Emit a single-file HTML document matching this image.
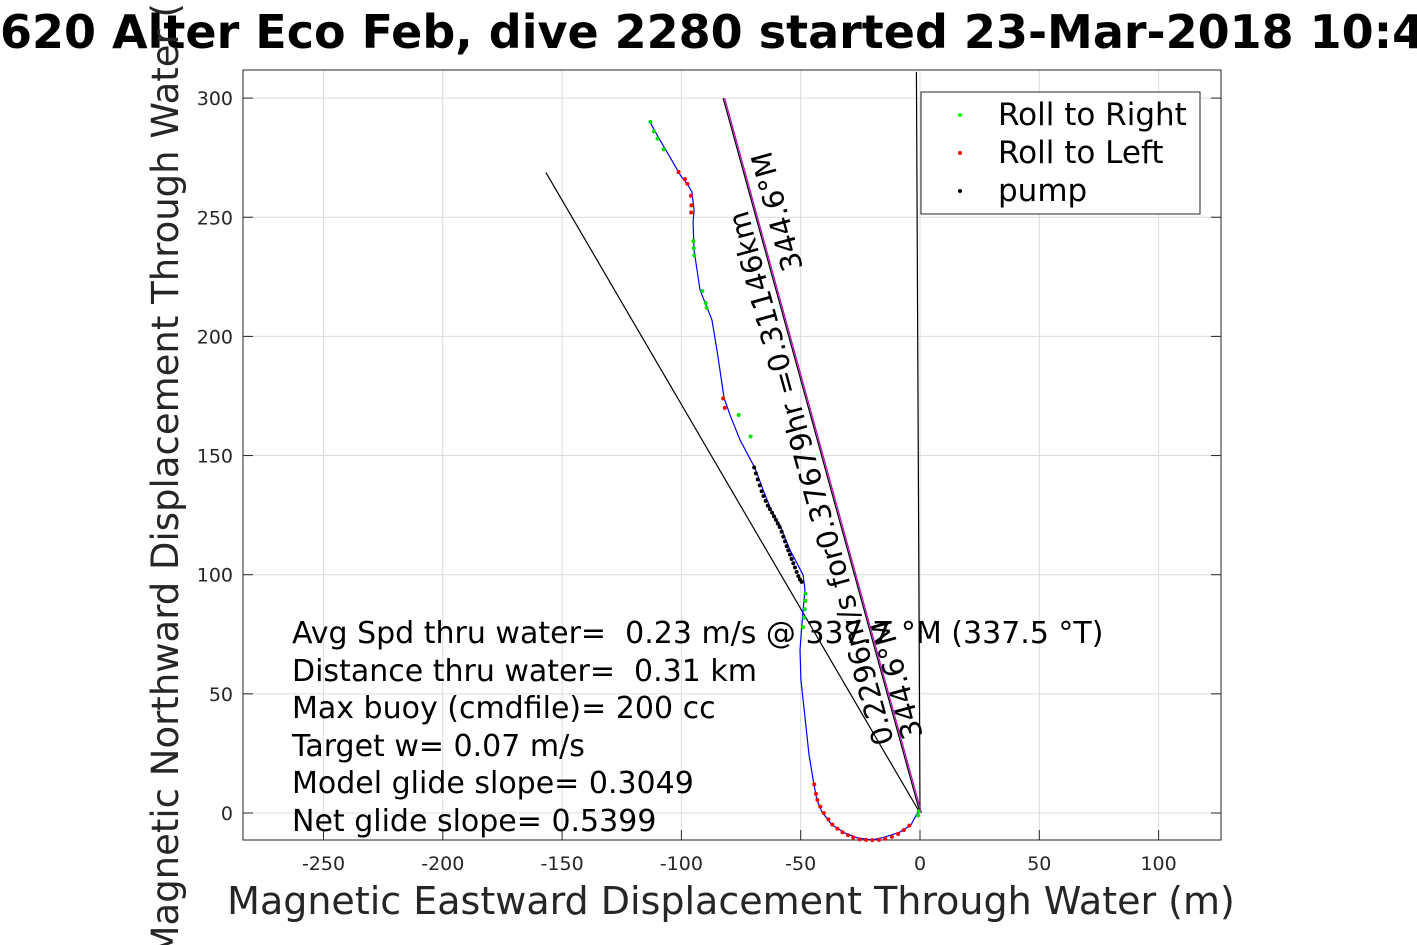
<!DOCTYPE html>
<html><head><meta charset="utf-8"><style>
html,body{margin:0;padding:0;background:#fff;width:1417px;height:945px;overflow:hidden}
svg{display:block;font-family:"DejaVu Sans","Liberation Sans",sans-serif}
.pre{white-space:pre}
</style></head><body>
<svg id="chart" width="1417" height="945">
<text x="0" y="48" font-size="46" font-weight="bold">620 Alter Eco Feb, dive 2280 started 23-Mar-2018 10:4</text>
<g id="grid"></g>
<rect x="243" y="70" width="978" height="770" fill="none" stroke="#262626" stroke-width="1"/>
<g id="ticks"></g>
<g id="marks"></g>
<g id="labels" font-size="30" class="pre">
<text x="292" y="643" class="pre">Avg Spd thru water=  0.23 m/s @ 337.7 °M (337.5 °T)</text>
<text x="292" y="681" class="pre">Distance thru water=  0.31 km</text>
<text x="292" y="718">Max buoy (cmdfile)= 200 cc</text>
<text x="292" y="756">Target w= 0.07 m/s</text>
<text x="292" y="793">Model glide slope= 0.3049</text>
<text x="292" y="831">Net glide slope= 0.5399</text>
</g>
<text transform="translate(894,742) rotate(-105.4)" font-size="29">0.2296m/s for0.37679hr =0.31146km</text>
<text transform="translate(923,736) rotate(-105.4)" font-size="29">344.6°M</text>
<text transform="translate(803,268) rotate(-105.4)" font-size="29">344.6°M</text>
<g>
<rect x="921" y="92" width="279" height="122" fill="#fff" stroke="#262626"/>
<circle cx="960" cy="115" r="2" fill="#0f0"/>
<text x="998" y="125" font-size="31">Roll to Right</text>
<circle cx="960" cy="153" r="2" fill="#f00"/>
<text x="998" y="163" font-size="31">Roll to Left</text>
<circle cx="960" cy="191" r="2" fill="#000"/>
<text x="998" y="201" font-size="31">pump</text>
</g>
<text x="731" y="914" font-size="38" fill="#262626" text-anchor="middle">Magnetic Eastward Displacement Through Water (m)</text>
<text transform="translate(178,455) rotate(-90)" font-size="37" fill="#262626" text-anchor="middle">Magnetic Northward Displacement Through Water (m)</text>
</svg>
<script>
const xTicks=[-250,-200,-150,-100,-50,0,50,100];
const yTicks=[0,50,100,150,200,250,300];
const trackX=[0,-0.4,-3.8,-8.4,-14.7,-20.1,-26,-31.4,-36.9,-41.1,-43.2,-44.4,-46.5,-49.9,-50.3,-49,-48.2,-49,-54.5,-58.7,-62,-65.4,-69.2,-75.4,-79.6,-82.1,-85.1,-87.2,-92.2,-94.7,-95.1,-94.7,-95.6,-97.2,-100.2,-106.5,-109,-113.2];
const trackY=[0,1.3,-5,-8,-10.1,-11.3,-10.5,-8.4,-5,0.4,5.5,11.7,24.3,55.8,68.4,85.2,93.6,99.9,110.4,120.9,126.3,134.7,144.8,156.5,167,174.1,194.3,206.9,219.5,236.3,248,253,260.6,263.5,267.3,278.2,282.4,290];
const greenX=[-113,-111.5,-110,-107.5,-95,-94.8,-94.6,-91.2,-89.8,-89.4,-76,-71,-48,-48,-48.3,-48.6,-49,-0.5,-0.8];
const greenY=[290,286,283,278.5,240,237,234,219,214,212,167,158,92,89,85.5,82,78,0.8,-1];
const redX=[-101.2,-98.5,-97.5,-96,-95.8,-95.9,-82.5,-81.8,-44.3,-43.6,-43,-41.8,-40.3,-38.4,-36.8,-34.6,-32.5,-30.2,-28,-25.3,-22.6,-20,-17.2,-14.6,-11.8,-9.2,-6.8,-4.5];
const redY=[269,266,264,259,255,252,174,170,12,8,5.5,2.7,0,-2.7,-4.8,-6.6,-8.1,-9.3,-10.3,-11,-11.3,-11.4,-11.3,-10.8,-10,-8.8,-7.2,-5.3];
const pumpX=[-69.5,-68.8,-68,-67.2,-66.4,-65.6,-64.7,-63.8,-62.9,-62,-61.2,-60.4,-59.6,-58.8,-58,-57.3,-56.6,-55.9,-55.2,-54.5,-53.8,-53.1,-52.4,-51.7,-51,-50.3,-49.6];
const pumpY=[145,142.5,140,137.5,135,133,131,129,127.5,126,124.5,123,121.5,120,118,116,114,112,110.2,108.4,106.6,104.8,103,101.2,99.4,98,97];
const lineEndsX=[-156.8,-82.5,-1.5];
const lineEndsY=[268.8,300,311];
const X=v=>920+v*2.386, Y=v=>813-v*2.383;
const NS='http://www.w3.org/2000/svg';
function mk(parent,tag,attrs){const e=document.createElementNS(NS,tag);for(const k in attrs)e.setAttribute(k,attrs[k]);document.getElementById(parent).appendChild(e);return e;}
xTicks.forEach(t=>{
 const g=mk('grid','line',{x1:X(t),x2:X(t),y1:70,y2:840,stroke:'#dcdcdc'});
 
 
 const tk=mk('ticks','line',{x1:X(t),x2:X(t),y1:840,y2:830,stroke:'#262626'});
 
 
 const l=mk('ticks','text',{x:X(t),y:870,'text-anchor':'middle','font-size':19,fill:'#262626'});
 l.textContent=t;
 
 
});
yTicks.forEach(t=>{
 const g=mk('grid','line',{x1:243,x2:1221,y1:Y(t),y2:Y(t),stroke:'#dcdcdc'});
 
 
 const tk=mk('ticks','line',{x1:243,x2:253,y1:Y(t),y2:Y(t),stroke:'#262626'});
 
 
 const tk2=mk('ticks','line',{x1:1211,x2:1221,y1:Y(t),y2:Y(t),stroke:'#262626'});
 
 
 const l=mk('ticks','text',{x:233,y:Y(t)+7,'text-anchor':'end','font-size':19,fill:'#262626'});
 l.textContent=t;
 
 
});
lineEndsX.forEach((v,i)=>{
 const ln=mk('marks','line',{x1:X(0),y1:Y(0),x2:X(v),y2:Y(lineEndsY[i]),stroke:'#000','stroke-width':1.2});
 
 
});
const mg=mk('marks','line',{x1:X(0)+1.5,y1:Y(0),x2:X(lineEndsX[1])+1.5,y2:Y(lineEndsY[1]),stroke:'#c000c0','stroke-width':1.2});


const tr=mk('marks','polyline',{points:trackX.map((v,i)=>X(v)+','+Y(trackY[i])).join(' '),fill:'none',stroke:'#0000ff','stroke-width':1.2,'stroke-linejoin':'round'});


function dots(xs,ys,col,name){xs.forEach((v,i)=>{
 const c=mk('marks','circle',{cx:X(v),cy:Y(ys[i]),r:2,fill:col});
 
 
});}
dots(pumpX,pumpY,'#000','pump-point');
dots(greenX,greenY,'#00e000','roll-right-point');
dots(redX,redY,'#ff0000','roll-left-point');
</script>
</body></html>
